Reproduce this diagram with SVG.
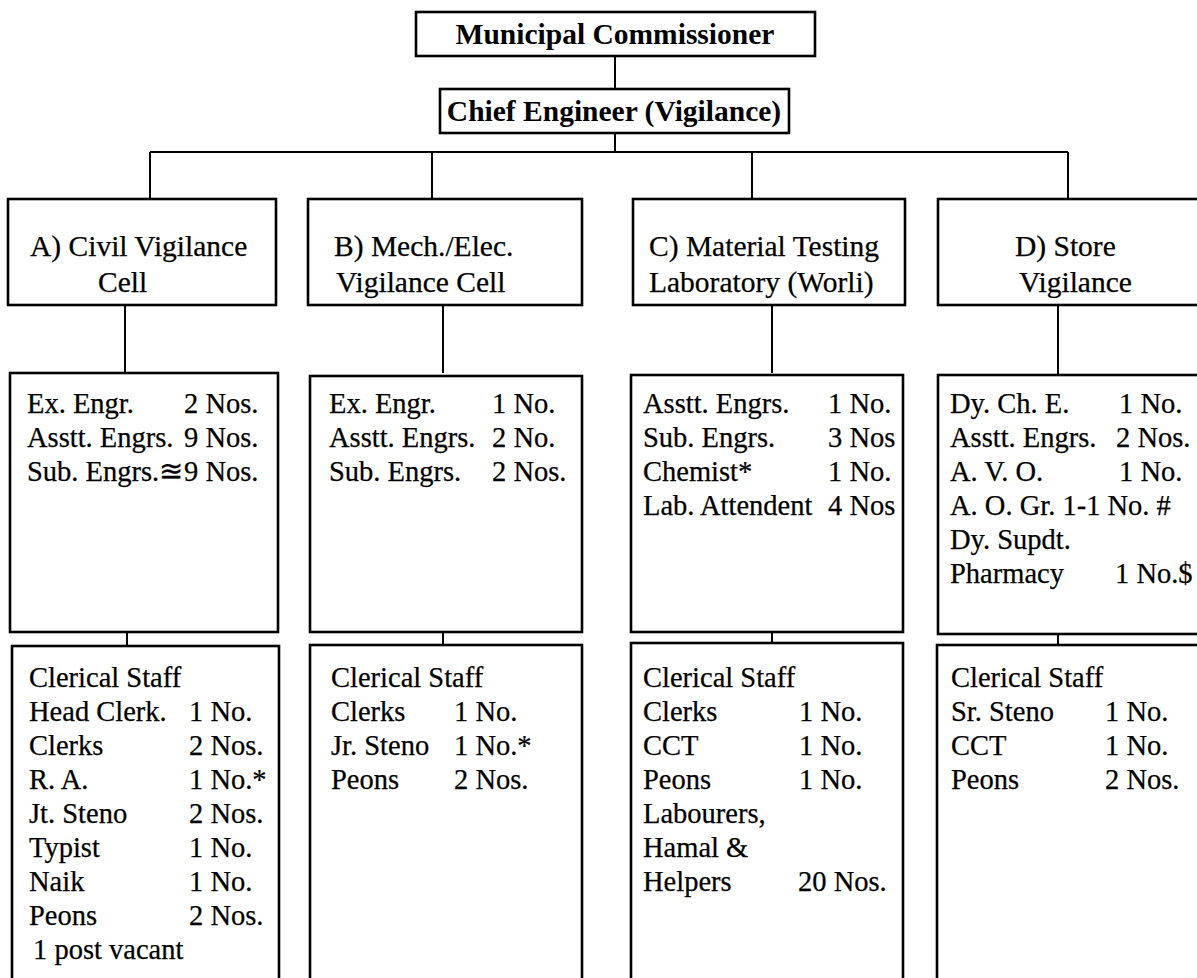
<svg xmlns="http://www.w3.org/2000/svg" width="1197" height="978" viewBox="0 0 1197 978">
<style>
.box{fill:#fff;stroke:#000;stroke-width:2.6}
.ln{stroke:#000;stroke-width:2;fill:none}
.t{font-family:"Liberation Serif","Times New Roman",serif;font-size:28.5px;fill:#000;stroke:#000;stroke-width:0.25}
.h{font-size:29.5px}
.b{font-family:"Liberation Serif","Times New Roman",serif;font-size:29.5px;font-weight:bold;fill:#000}
</style>
<rect width="1197" height="978" fill="#fff"/>
<g id="connectors">
<path class="ln" d="M615 56V89M615 133V152M150 152H1068M150 152V199M432 152V199M752 152V199M1068 152V199"/>
<path class="ln" d="M125 305V373M443 305V373M772 305V373M1058 305V375"/>
<path class="ln" d="M127 632V646M443 632V645M772 632V643M1058 634V645"/>
</g>
<g id="mc">
<rect class="box" x="416" y="12" width="399" height="44"/>
<text class="b" x="615" y="44" text-anchor="middle">Municipal Commissioner</text>
</g>
<g id="ce">
<rect class="box" x="440" y="89" width="349" height="44"/>
<text class="b" x="614" y="121" text-anchor="middle">Chief Engineer (Vigilance)</text>
</g>
<g id="hA">
<rect class="box" x="8" y="199" width="268" height="106"/>
<text class="t h" x="30" y="256">A) Civil Vigilance</text>
<text class="t h" x="98" y="292">Cell</text>
</g>
<g id="hB">
<rect class="box" x="308" y="199" width="274" height="106"/>
<text class="t h" x="334" y="256">B) Mech./Elec.</text>
<text class="t h" x="336" y="292">Vigilance Cell</text>
</g>
<g id="hC">
<rect class="box" x="633" y="199" width="272" height="106"/>
<text class="t h" x="649" y="256">C) Material Testing</text>
<text class="t h" x="649" y="292">Laboratory (Worli)</text>
</g>
<g id="hD">
<rect class="box" x="938" y="199" width="270" height="106"/>
<text class="t h" x="1015" y="256">D) Store</text>
<text class="t h" x="1019" y="292">Vigilance</text>
</g>
<g id="mA">
<rect class="box" x="10" y="373" width="268" height="259"/>
<text class="t" x="27" y="413">Ex. Engr.</text><text class="t" x="184" y="413">2 Nos.</text>
<text class="t" x="27" y="447">Asstt. Engrs.</text><text class="t" x="184" y="447">9 Nos.</text>
<text class="t" x="27" y="481">Sub. Engrs.≊</text><text class="t" x="184" y="481">9 Nos.</text>
</g>
<g id="mB">
<rect class="box" x="310" y="376" width="272" height="256"/>
<text class="t" x="329" y="413">Ex. Engr.</text><text class="t" x="492" y="413">1 No.</text>
<text class="t" x="329" y="447">Asstt. Engrs.</text><text class="t" x="492" y="447">2 No.</text>
<text class="t" x="329" y="481">Sub. Engrs.</text><text class="t" x="492" y="481">2 Nos.</text>
</g>
<g id="mC">
<rect class="box" x="631" y="375" width="272" height="257"/>
<text class="t" x="643" y="413">Asstt. Engrs.</text><text class="t" x="828" y="413">1 No.</text>
<text class="t" x="643" y="447">Sub. Engrs.</text><text class="t" x="828" y="447">3 Nos</text>
<text class="t" x="643" y="481">Chemist*</text><text class="t" x="828" y="481">1 No.</text>
<text class="t" x="643" y="515">Lab. Attendent</text><text class="t" x="828" y="515">4 Nos</text>
</g>
<g id="mD">
<rect class="box" x="938" y="375" width="270" height="259"/>
<text class="t" x="950" y="413">Dy. Ch. E.</text><text class="t" x="1119" y="413">1 No.</text>
<text class="t" x="950" y="447">Asstt. Engrs.</text><text class="t" x="1116" y="447">2 Nos.</text>
<text class="t" x="950" y="481">A. V. O.</text><text class="t" x="1119" y="481">1 No.</text>
<text class="t" x="950" y="515">A. O. Gr. 1-1 No. #</text>
<text class="t" x="950" y="549">Dy. Supdt.</text>
<text class="t" x="950" y="583">Pharmacy</text><text class="t" x="1115" y="583">1 No.$</text>
</g>
<g id="bA">
<rect class="box" x="12" y="646" width="267" height="345"/>
<text class="t" x="29" y="687">Clerical Staff</text>
<text class="t" x="29" y="721">Head Clerk.</text><text class="t" x="189" y="721">1 No.</text>
<text class="t" x="29" y="755">Clerks</text><text class="t" x="189" y="755">2 Nos.</text>
<text class="t" x="29" y="789">R. A.</text><text class="t" x="189" y="789">1 No.*</text>
<text class="t" x="29" y="823">Jt. Steno</text><text class="t" x="189" y="823">2 Nos.</text>
<text class="t" x="29" y="857">Typist</text><text class="t" x="189" y="857">1 No.</text>
<text class="t" x="29" y="891">Naik</text><text class="t" x="189" y="891">1 No.</text>
<text class="t" x="29" y="925">Peons</text><text class="t" x="189" y="925">2 Nos.</text>
<text class="t" x="33" y="959">1 post vacant</text>
</g>
<g id="bB">
<rect class="box" x="310" y="645" width="272" height="345"/>
<text class="t" x="331" y="687">Clerical Staff</text>
<text class="t" x="331" y="721">Clerks</text><text class="t" x="454" y="721">1 No.</text>
<text class="t" x="331" y="755">Jr. Steno</text><text class="t" x="454" y="755">1 No.*</text>
<text class="t" x="331" y="789">Peons</text><text class="t" x="454" y="789">2 Nos.</text>
</g>
<g id="bC">
<rect class="box" x="631" y="643" width="272" height="347"/>
<text class="t" x="643" y="687">Clerical Staff</text>
<text class="t" x="643" y="721">Clerks</text><text class="t" x="799" y="721">1 No.</text>
<text class="t" x="643" y="755">CCT</text><text class="t" x="799" y="755">1 No.</text>
<text class="t" x="643" y="789">Peons</text><text class="t" x="799" y="789">1 No.</text>
<text class="t" x="643" y="823">Labourers,</text>
<text class="t" x="643" y="857">Hamal &amp;</text>
<text class="t" x="643" y="891">Helpers</text><text class="t" x="798" y="891">20 Nos.</text>
</g>
<g id="bD">
<rect class="box" x="937" y="645" width="271" height="345"/>
<text class="t" x="951" y="687">Clerical Staff</text>
<text class="t" x="951" y="721">Sr. Steno</text><text class="t" x="1105" y="721">1 No.</text>
<text class="t" x="951" y="755">CCT</text><text class="t" x="1105" y="755">1 No.</text>
<text class="t" x="951" y="789">Peons</text><text class="t" x="1105" y="789">2 Nos.</text>
</g>
</svg>
